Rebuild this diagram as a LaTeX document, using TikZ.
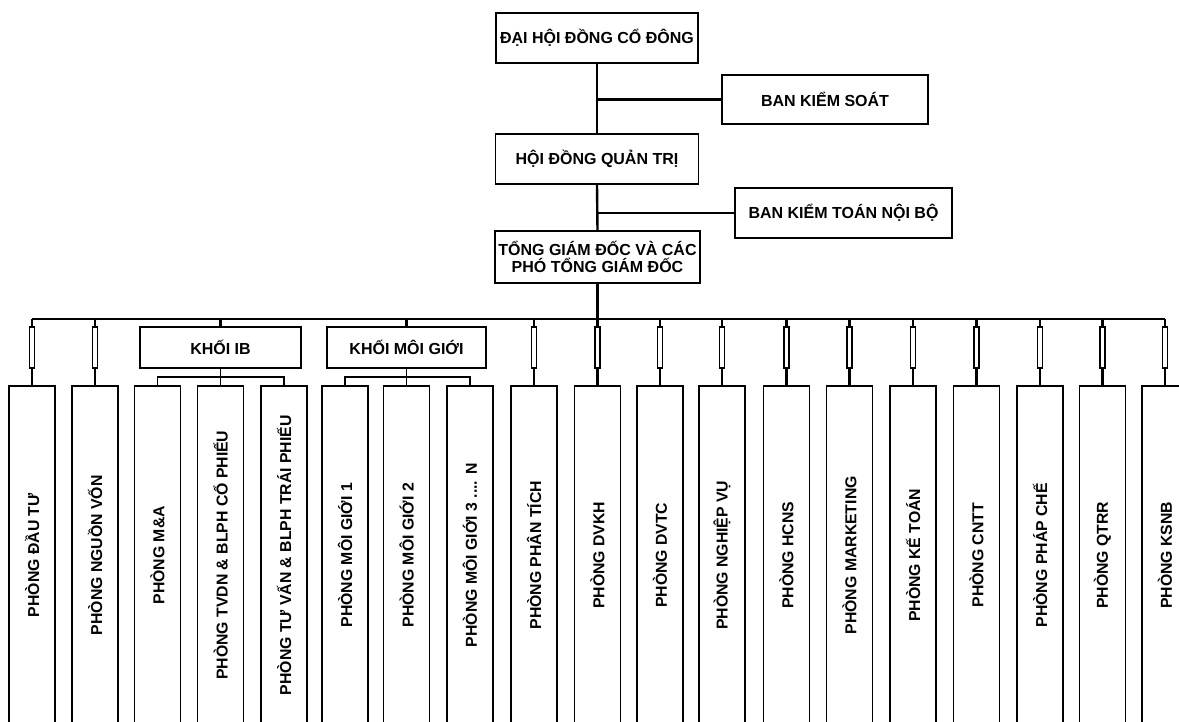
\documentclass[tikz,border=0pt]{standalone}
\usepackage{fontspec}
\setmainfont{Liberation Sans}
\newcommand\mgthreelabel{PHÒNG MÔI GIỚI 3 .... N}
\begin{document}
\begin{tikzpicture}[x=1pt,y=-1pt,
  box/.style={draw,line width=1.5pt,inner sep=0pt,align=center,font=\bfseries\fontsize{16}{17}\selectfont},
  dept/.style={draw,line width=1.5pt,minimum width=46pt,minimum height=345pt,anchor=north,inner sep=0pt},
  depttext/.style={inner sep=0pt,font=\bfseries\fontsize{15.8}{17}\selectfont},
  link/.style={line width=2.4pt},
  sublink/.style={line width=1.8pt},
  fuse/.style={draw,line width=1.1pt,minimum width=5pt,minimum height=41pt,inner sep=0pt,fill=white}]
\useasboundingbox[fill=white] (0,0) rectangle (1179,722);

% top hierarchy
\node[box,minimum width=202pt,minimum height=50pt] (dhd) at (597,38) {ĐẠI HỘI ĐỒNG CỔ ĐÔNG};
\node[box,minimum width=206pt,minimum height=49pt] (bks) at (825,99.5) {BAN KIỂM SOÁT};
\node[box,minimum width=203pt,minimum height=50pt] (hdqt) at (597,159) {HỘI ĐỒNG QUẢN TRỊ};
\node[box,minimum width=217pt,minimum height=50pt] (bktnb) at (843.5,213) {BAN KIỂM TOÁN NỘI BỘ};
\node[box,minimum width=205pt,minimum height=52pt] (tgd) at (597.5,257) {TỔNG GIÁM ĐỐC VÀ CÁC\\PHÓ TỔNG GIÁM ĐỐC};

\draw[link] (dhd.south) -- (hdqt.north);
\draw[link] (bks.west) -- (bks.west -| dhd.south);
\draw[link] (hdqt.south) -- (tgd.north);
\draw[link] (bktnb.west) -- (bktnb.west -| hdqt.south);

% bus
\coordinate (busL) at (32,319);
\coordinate (busR) at (1165,319);
\draw[link] (busL) -- (busR);
\draw[link] (tgd.south) -- (tgd.south |- busL);

% departments
\foreach \i/\x/\t in {
  0/32/{PHÒNG ĐẦU TƯ},
  1/95/{PHÒNG NGUỒN VỐN},
  2/157.5/{PHÒNG M\&A},
  3/220.5/{PHÒNG TVDN \& BLPH CỔ PHIẾU},
  4/284/{PHÒNG TƯ VẤN \& BLPH TRÁI PHIẾU},
  5/345/{PHÒNG MÔI GIỚI 1},
  6/406.5/{PHÒNG MÔI GIỚI 2},
  7/470/{\mgthreelabel},
  8/534/{PHÒNG PHÂN TÍCH},
  9/597.5/{PHÒNG DVKH},
  10/660/{PHÒNG DVTC},
  11/722/{PHÒNG NGHIỆP VỤ},
  12/786.5/{PHÒNG HCNS},
  13/849.5/{PHÒNG MARKETING},
  14/913/{PHÒNG KẾ TOÁN},
  15/976.5/{PHÒNG CNTT},
  16/1040/{PHÒNG PHÁP CHẾ},
  17/1102.5/{PHÒNG QTRR},
  18/1165/{PHÒNG KSNB}}{
  \node[dept] (d\i) at (\x,385) {};
  \node[depttext] (t\i) at ([yshift=3pt]d\i.center) {\rotatebox{90}{\t}};
}

% direct (fused) connectors
\foreach \i in {0,1,8,9,10,11,12,13,14,15,16,17,18}{
  \node[fuse] (f\i) at (d\i.north |- 0,347.5) {};
  \draw[link] (f\i.north |- busL) -- (f\i.north);
  \draw[link] (f\i.south) -- (d\i.north);
}

% groups
\node[box,minimum width=161pt,minimum height=41pt] (ib) at (220.5,347.5) {KHỐI IB};
\node[box,minimum width=159pt,minimum height=41pt] (mg) at (406.5,347.5) {KHỐI MÔI GIỚI};
\draw[link] (ib.north |- busL) -- (ib.north);
\draw[link] (mg.north |- busL) -- (mg.north);

\coordinate (ibj) at (220.5,377);
\coordinate (mgj) at (406.5,377);
\draw[sublink] (ib.south) -- (ibj);
\draw[sublink] (d2.north) |- (ibj) -| (d4.north);
\draw[sublink] (ibj) -- (d3.north);
\draw[sublink] (mg.south) -- (mgj);
\draw[sublink] (d5.north) |- (mgj) -| (d7.north);
\draw[sublink] (mgj) -- (d6.north);
\end{tikzpicture}
\end{document}
